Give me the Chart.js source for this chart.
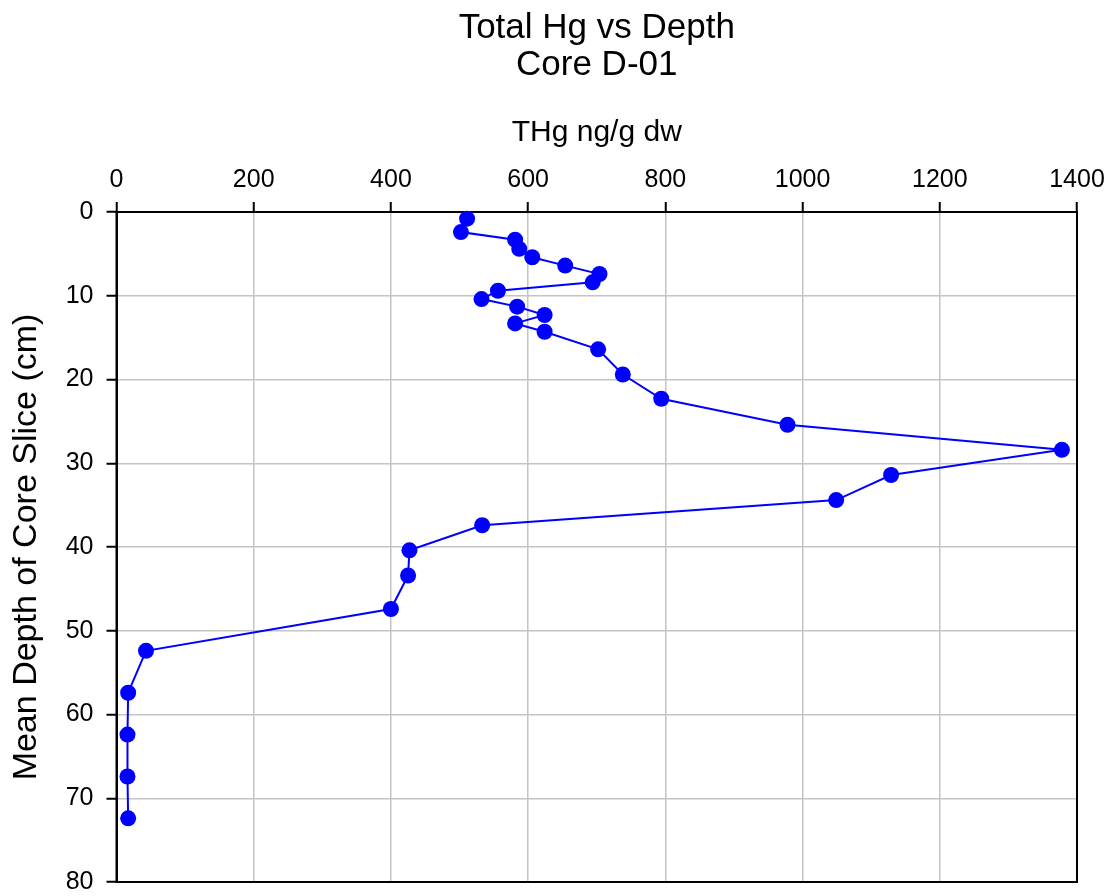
<!DOCTYPE html>
<html lang="en">

<head>
  <meta charset="UTF-8">
  <title>Total Hg vs Depth - Core D-01</title>
  <style>
    body {
      margin: 0;
      background-color: #ffffff;
    }

    #chart-container {
      width: 1113px;
      height: 896px;
    }
  </style>
</head>

<body>
  <div id="chart-container">
    <canvas id="depthChart"></canvas>
  </div>

  <script src="https://cdn.jsdelivr.net/npm/chart.js"></script>
  <script>
    // THg (ng/g dw) per core slice
    const thgValues = [511, 502, 581, 587, 606, 654, 704, 694, 556, 532, 584, 624, 581, 624, 702,
      738, 794, 978, 1378, 1129, 1049, 533, 427, 425, 400, 43, 17, 16, 16, 17];
    // mean depth of each slice (cm)
    const depthValues = [0.8, 2.4, 3.3, 4.4, 5.4, 6.4, 7.4, 8.4, 9.4, 10.4, 11.3, 12.3, 13.3, 14.3, 16.4,
      19.4, 22.3, 25.4, 28.4, 31.4, 34.4, 37.4, 40.4, 43.4, 47.4, 52.4, 57.4, 62.4, 67.4, 72.4];

    const xTickValues = [0, 200, 400, 600, 800, 1000, 1200, 1400];
    const yTickValues = [0, 10, 20, 30, 40, 50, 60, 70, 80];

    const fontFamily = '"Liberation Sans", Arial, sans-serif';

    const points = thgValues.map((v, i) => ({ x: v, y: depthValues[i] }));

    // black frame on the right and bottom of the plot area
    const frame = {
      id: 'frame',
      beforeDatasetsDraw(chart) {
        const { ctx, chartArea } = chart;
        ctx.save();
        ctx.strokeStyle = '#000000';
        ctx.lineWidth = 2;
        ctx.strokeRect(chartArea.left, chartArea.top, chartArea.right - chartArea.left, chartArea.bottom - chartArea.top);
        ctx.restore();
      }
    };

    const ctx = document.getElementById('depthChart').getContext('2d');

    const chart = new Chart(ctx, {
      type: 'scatter',
      data: {
        datasets: [{
          label: 'THg',
          data: points,
          showLine: true,
          borderColor: '#0000ff',
          borderWidth: 2,
          backgroundColor: '#0000ff',
          pointRadius: 8,
          pointHoverRadius: 8,
          pointBorderWidth: 0,
          clip: false,
        }]
      },
      options: {
        responsive: true,
        maintainAspectRatio: false,
        animation: false,
        events: [],
        layout: {
          padding: { left: 0, right: 36, top: 0, bottom: 0 }
        },
        scales: {
          x: {
            type: 'linear',
            position: 'top',
            min: 0,
            max: 1400,
            afterBuildTicks: (scale) => { scale.ticks = xTickValues.map(v => ({ value: v })); },
            afterFit: (scale) => { scale.height = 128.5; },
            ticks: {
              color: '#000000',
              padding: 7,
              maxRotation: 0,
              callback: (v) => String(v),
              font: { family: fontFamily, size: 25 }
            },
            grid: {
              color: '#c4c4c4',
              lineWidth: 1.5,
              tickColor: '#000000',
              tickWidth: 2,
              tickLength: 10,
            },
            border: { color: '#000000', width: 2 },
            title: {
              display: true,
              text: 'THg ng/g dw',
              color: '#000000',
              padding: { top: 31, bottom: 0 },
              font: { family: fontFamily, size: 30 }
            }
          },
          y: {
            type: 'linear',
            reverse: true,
            min: 0,
            max: 80,
            afterBuildTicks: (scale) => { scale.ticks = yTickValues.map(v => ({ value: v })); },
            afterFit: (scale) => {
              scale.width = 116.5;
              scale.paddingTop = 0;
              scale.paddingBottom = 14;
            },
            ticks: {
              color: '#000000',
              padding: 13,
              callback: (v) => String(v),
              font: { family: fontFamily, size: 25 }
            },
            grid: {
              color: '#c4c4c4',
              lineWidth: 1.5,
              tickColor: '#000000',
              tickWidth: 2,
              tickLength: 10,
            },
            border: { color: '#000000', width: 2 },
            title: {
              display: true,
              text: 'Mean Depth of Core Slice (cm)',
              color: '#000000',
              padding: { top: 6, bottom: 0 },
              font: { family: fontFamily, size: 34 }
            }
          }
        },
        plugins: {
          legend: { display: false },
          tooltip: { enabled: false },
          title: {
            display: true,
            fullSize: false,
            text: ['Total Hg vs Depth', 'Core D-01'],
            color: '#000000',
            padding: { top: 10, bottom: 0 },
            font: { family: fontFamily, size: 35, weight: 'normal', lineHeight: 1.05 }
          }
        }
      },
      plugins: [frame]
    });
  </script>
</body>

</html>
